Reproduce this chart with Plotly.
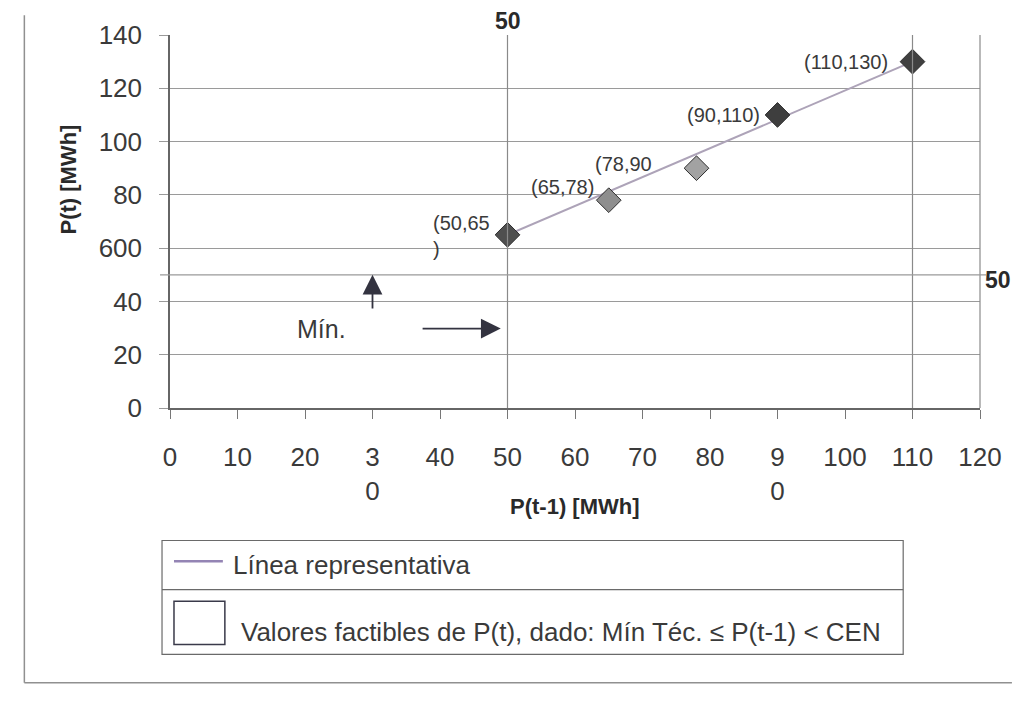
import plotly.graph_objects as go

# ---- data ----
x_prev = [50, 65, 78, 90, 110]
p_now = [65, 78, 90, 110, 130]
point_labels = ["(50,65<br>)", "(65,78)", "(78,90", "(90,110)", "(110,130)"]
marker_colors = ["#4f4f4f", "#8e8e8e", "#a2a2a2", "#3e3e3e", "#404040"]
line_x = [50, 110]
line_y = [65, 130]
x_ticks = [0, 10, 20, 30, 40, 50, 60, 70, 80, 90, 100, 110, 120]
x_ticktext = ["0", "10", "20", "3<br>0", "40", "50", "60", "70", "80", "9<br>0", "100", "110", "120"]
y_ticks = [0, 20, 40, 60, 80, 100, 120, 140]
y_ticktext = ["0", "20", "40", "600", "80", "100", "120", "140"]
ref_x = [50, 110]
ref_y = 50
legend_items = ["Línea representativa",
                "Valores factibles de P(t), dado: Mín Téc. ≤ P(t-1) < CEN"]

FONT = "Liberation Sans, Arial, sans-serif"
TXT = "#3a3a3a"
GRID = "#9a9a9a"

OFF = 8  # page body margin
W, H = 1022 - 2 * OFF, 712 - 2 * OFF
PLOT_L, PLOT_R, PLOT_T, PLOT_B = 170, 982, 28, 408  # in viewport pixels
PW, PH = PLOT_R - PLOT_L, PLOT_B - PLOT_T
L, T = PLOT_L - OFF, PLOT_T - OFF
R, B = W - L - PW, H - T - PH


def px(xp):
    return (xp - PLOT_L) / PW


def py(yp):
    return (PLOT_B - yp) / PH


fig = go.Figure()
fig.add_trace(go.Scatter(x=line_x, y=line_y, mode="lines",
                         line=dict(color="#ada3b8", width=2),
                         name=legend_items[0], showlegend=False, hoverinfo="skip"))
fig.add_trace(go.Scatter(x=x_prev, y=p_now, mode="markers",
                         marker=dict(symbol="diamond", size=19, color=marker_colors,
                                     line=dict(color="#2e2e2e", width=1)),
                         showlegend=False))

shapes = []
for xv in ref_x:
    shapes.append(dict(type="line", xref="x", yref="y", x0=xv, x1=xv, y0=0, y1=140,
                       line=dict(color="#8a8a8a", width=1.2)))
shapes.append(dict(type="line", xref="paper", yref="y", x0=1, x1=1, y0=0, y1=140,
                   line=dict(color="#8a8a8a", width=1.2)))
shapes.append(dict(type="line", xref="paper", yref="y", x0=px(160), x1=px(988), y0=ref_y, y1=ref_y,
                   line=dict(color=GRID, width=1.2)))
# outer frame (left + bottom)
shapes.append(dict(type="line", xref="paper", yref="paper", x0=px(24), x1=px(24), y0=py(8), y1=py(688),
                   line=dict(color="#909090", width=1.5)))
shapes.append(dict(type="line", xref="paper", yref="paper", x0=px(24), x1=px(1014), y0=py(688), y1=py(688),
                   line=dict(color="#909090", width=1.5)))
# legend box
shapes.append(dict(type="rect", xref="paper", yref="paper", x0=px(162), x1=px(905), y0=py(659), y1=py(543),
                   line=dict(color="#6a6a6a", width=1.2), fillcolor="rgba(0,0,0,0)"))
shapes.append(dict(type="line", xref="paper", yref="paper", x0=px(162), x1=px(905), y0=py(593), y1=py(593),
                   line=dict(color="#6a6a6a", width=1.2)))
shapes.append(dict(type="line", xref="paper", yref="paper", x0=px(174), x1=px(223), y0=py(564), y1=py(564),
                   line=dict(color="#9484b4", width=2.5)))
shapes.append(dict(type="rect", xref="paper", yref="paper", x0=px(174), x1=px(225), y0=py(649), y1=py(605),
                   line=dict(color="#3a3a4a", width=1.5), fillcolor="rgba(0,0,0,0)"))

annotations = []
label_pos = [(38.7, 64.7, "left"), (58.1, 83.0, "center"), (67.2, 91.5, "center"),
             (82.0, 109.8, "center"), (100.2, 129.7, "center")]
for (lx, ly, anchor), txt in zip(label_pos, point_labels):
    annotations.append(dict(x=lx, y=ly, xref="x", yref="y", text=txt, showarrow=False,
                            xanchor=anchor, yanchor="middle", align="left",
                            font=dict(family=FONT, size=20, color=TXT)))
# arrows
annotations.append(dict(x=30, y=50, ax=30, ay=36.8, xref="x", yref="y", axref="x", ayref="y",
                        text="", showarrow=True, arrowhead=2, arrowsize=2.2, arrowwidth=1.8,
                        arrowcolor="#333340"))
annotations.append(dict(x=49, y=29.8, ax=37.2, ay=29.8, xref="x", yref="y", axref="x", ayref="y",
                        text="", showarrow=True, arrowhead=2, arrowsize=2.2, arrowwidth=1.8,
                        arrowcolor="#333340"))
annotations.append(dict(x=22.5, y=29.8, xref="x", yref="y", text="Mín.", showarrow=False,
                        xanchor="center", yanchor="middle",
                        font=dict(family=FONT, size=25, color=TXT)))
# "50" markers
annotations.append(dict(x=50, y=py(14), xref="x", yref="paper", text="<b>50</b>", showarrow=False,
                        xanchor="center", yanchor="middle",
                        font=dict(family=FONT, size=23, color="#2a2a2a")))
annotations.append(dict(x=px(1000), y=py(278), xref="paper", yref="paper", text="<b>50</b>", showarrow=False,
                        xanchor="center", yanchor="middle",
                        font=dict(family=FONT, size=23, color="#2a2a2a")))
# axis titles
annotations.append(dict(x=px(576), y=py(508), xref="paper", yref="paper", text="<b>P(t-1) [MWh]</b>",
                        showarrow=False, xanchor="center", yanchor="middle",
                        font=dict(family=FONT, size=22, color="#2a2a2a")))
annotations.append(dict(x=px(68), y=py(175), xref="paper", yref="paper", text="<b>P(t) [MWh]</b>",
                        showarrow=False, textangle=-90, xanchor="center", yanchor="middle",
                        font=dict(family=FONT, size=22, color="#2a2a2a")))
# legend texts
annotations.append(dict(x=px(231), y=py(568), xref="paper", yref="paper", text=legend_items[0],
                        showarrow=False, xanchor="left", yanchor="middle",
                        font=dict(family=FONT, size=26, color=TXT)))
annotations.append(dict(x=px(239), y=py(636), xref="paper", yref="paper", text=legend_items[1],
                        showarrow=False, xanchor="left", yanchor="middle",
                        font=dict(family=FONT, size=26, color=TXT)))

fig.update_layout(
    width=W, height=H, autosize=False,
    margin=dict(l=L, r=R, t=T, b=B, pad=0),
    paper_bgcolor="white", plot_bgcolor="white",
    showlegend=False,
    shapes=shapes, annotations=annotations,
    xaxis=dict(range=[0, 120], tickvals=x_ticks, ticktext=x_ticktext,
               showgrid=False, zeroline=False, showline=True, linecolor="#666666", linewidth=1.5,
               ticks="outside", ticklen=9, tickcolor="#777777", ticklabelstandoff=16,
               tickfont=dict(family=FONT, size=26, color=TXT), fixedrange=True),
    yaxis=dict(range=[0, 140], tickvals=y_ticks, ticktext=y_ticktext,
               showgrid=True, gridcolor=GRID, gridwidth=1.2, zeroline=False,
               showline=True, linecolor="#666666", linewidth=1.5,
               ticks="outside", ticklen=9, tickcolor=GRID, ticklabelstandoff=12,
               tickfont=dict(family=FONT, size=26, color=TXT), fixedrange=True),
)

fig.write_html("out.html")
